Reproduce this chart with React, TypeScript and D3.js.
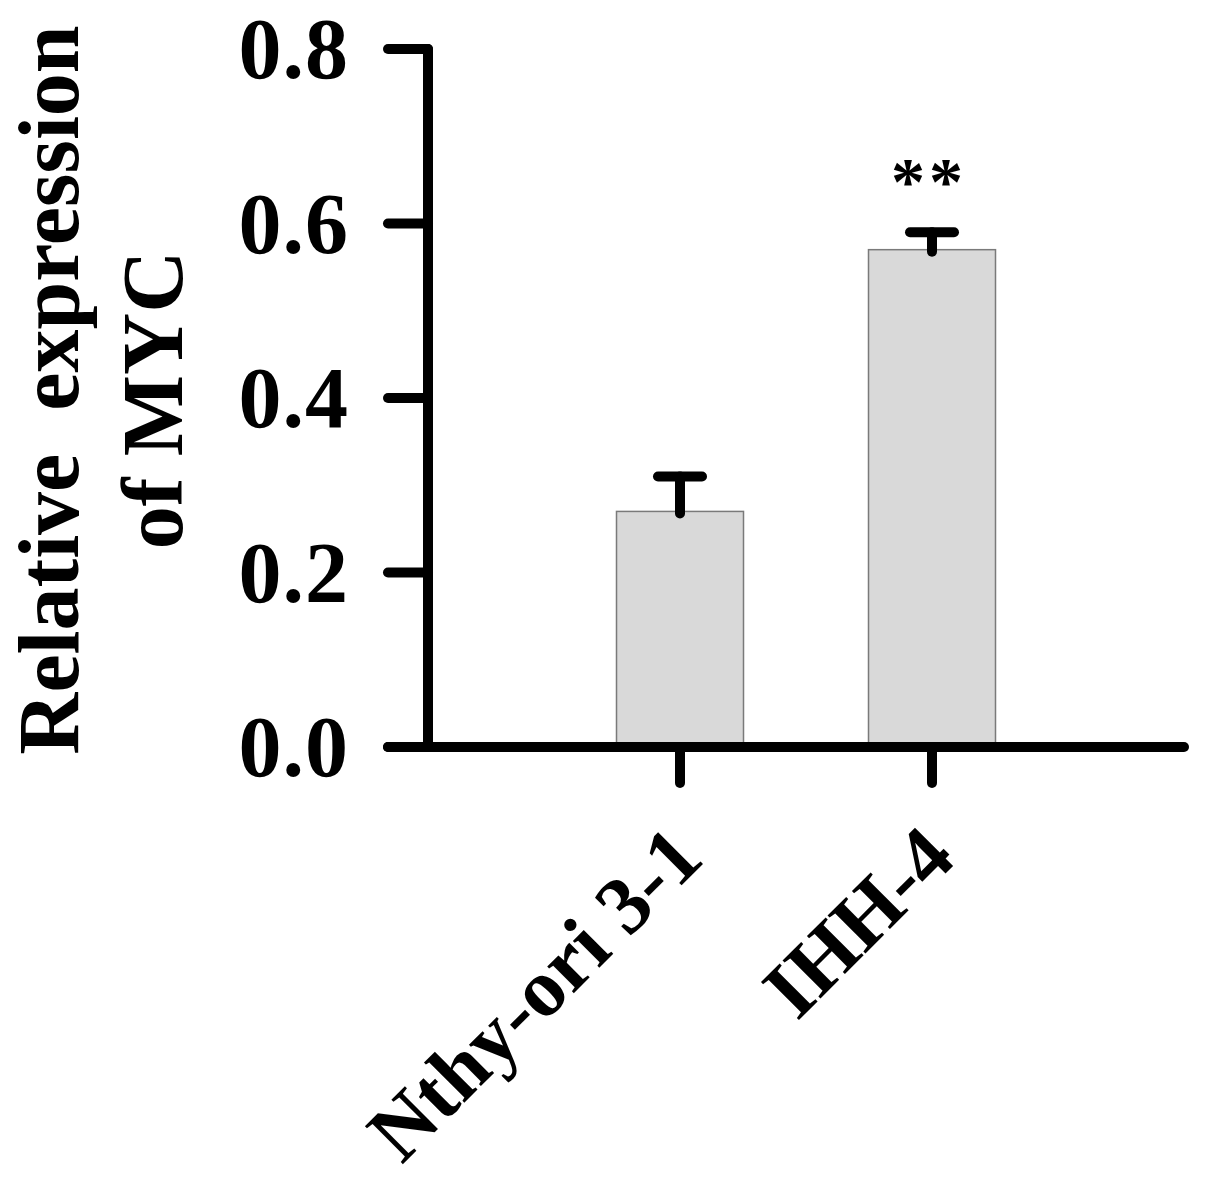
import React from "react";
import * as d3 from "d3";

const categories = ["Nthy-ori 3-1", "IHH-4"];
const means = [0.27, 0.57];
const sds = [0.04, 0.02];
const significance = ["", "**"];
const yTicks = [0, 0.2, 0.4, 0.6, 0.8];
const yLabelLines = ["Relative  expression", "of MYC"];

const W = 1205;
const H = 1188;
const FONT = '"Liberation Serif", Tinos, "Times New Roman", Times, serif';

export default function App() {
  const x0 = 428;
  const x1 = 1184;
  const y = d3.scaleLinear().domain([0, 0.8]).range([747, 49]);
  const x = d3.scalePoint<string>().domain(categories).range([x0, x1]).padding(1);
  const barW = 127;
  const axisW = 10;
  const capHalf = 22;
  const ts: React.CSSProperties = { fontFamily: FONT, fontWeight: 700 };

  return (
    <svg
      width={W}
      height={H}
      style={{ position: "absolute", left: 0, top: 0, background: "#fff" }}
    >
      {/* bars */}
      {categories.map((c, i) => (
        <rect
          key={c}
          x={(x(c) as number) - barW / 2}
          y={y(means[i])}
          width={barW}
          height={y(0) - y(means[i])}
          fill="#d9d9d9"
          stroke="#7a7a7a"
          strokeWidth={1.5}
        />
      ))}
      {/* error bars */}
      {categories.map((c, i) => {
        const cx = x(c) as number;
        const top = y(means[i] + sds[i]);
        return (
          <g key={"e" + c} stroke="#000" strokeWidth={10} strokeLinecap="round">
            <line x1={cx} x2={cx} y1={y(means[i]) + 2} y2={top} />
            <line x1={cx - capHalf} x2={cx + capHalf} y1={top} y2={top} />
          </g>
        );
      })}
      {/* significance */}
      {categories.map((c, i) =>
        significance[i] ? (
          <text
            key={"s" + c}
            x={(x(c) as number) - 3}
            y={y(means[i] + sds[i]) - 28}
            textAnchor="middle"
            fontSize={68}
            letterSpacing={4}
            style={ts}
          >
            {significance[i]}
          </text>
        ) : null
      )}
      {/* y axis */}
      <g stroke="#000" strokeWidth={axisW} strokeLinecap="round">
        <line x1={x0} x2={x0} y1={y(0.8)} y2={y(0)} />
        {yTicks.map((t) => (
          <line key={t} x1={x0 - 40} x2={x0} y1={y(t)} y2={y(t)} />
        ))}
      </g>
      {yTicks.map((t) => (
        <text
          key={"t" + t}
          x={349}
          y={y(t) + 29}
          textAnchor="end"
          fontSize={86}
          letterSpacing={1}
          style={ts}
        >
          {d3.format(".1f")(t)}
        </text>
      ))}
      {/* x axis */}
      <g stroke="#000" strokeWidth={axisW} strokeLinecap="round">
        <line x1={x0 - 40} x2={x1} y1={y(0)} y2={y(0)} />
        {categories.map((c) => (
          <line key={c} x1={x(c) as number} x2={x(c) as number} y1={y(0)} y2={y(0) + 36} />
        ))}
      </g>
      {categories.map((c) => (
        <text
          key={"l" + c}
          transform={`translate(${(x(c) as number) + 26},${y(0) + 114}) rotate(-45)`}
          textAnchor="end"
          fontSize={82}
          style={ts}
        >
          {c}
        </text>
      ))}
      {/* y label */}
      {yLabelLines.map((l, i) => (
        <text
          key={l}
          transform={`translate(${78 + i * 104},${390 + i * 10}) rotate(-90)`}
          textAnchor="middle"
          fontSize={86}
          style={{ ...ts, whiteSpace: "pre" }}
        >
          {l}
        </text>
      ))}
    </svg>
  );
}
